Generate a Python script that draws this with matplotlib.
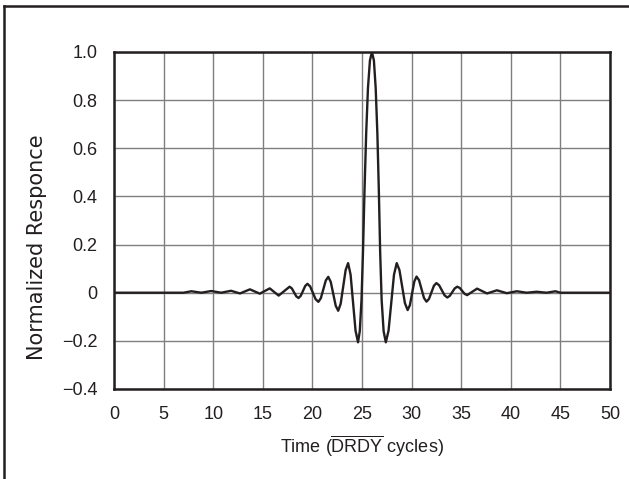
import matplotlib
matplotlib.use("Agg")
import matplotlib.pyplot as plt
from matplotlib.lines import Line2D

plt.rcParams['font.family'] = ['Liberation Sans', 'DejaVu Sans']
plt.rcParams['mathtext.fontset'] = 'custom'
plt.rcParams['mathtext.rm'] = 'Liberation Sans'
plt.rcParams['mathtext.it'] = 'Liberation Sans:italic'

# Impulse response (x in DRDY cycles, y normalized)
time_cycles = [
    0.0, 7.0, 7.4, 7.8, 8.3, 8.8, 9.3, 9.8, 10.3, 10.8, 11.3, 11.8, 12.25, 12.7,
    13.2, 13.7, 14.2, 14.7, 15.2, 15.7, 16.15, 16.6, 17.15, 17.7,
    17.925, 18.15, 18.375, 18.6, 18.825, 19.05, 19.275, 19.5,
    19.775, 20.05, 20.325, 20.6, 20.85, 21.1, 21.35, 21.6,
    21.85, 22.1, 22.35, 22.6, 22.85, 23.1, 23.35, 23.6,
    23.85, 24.1, 24.35, 24.6,
    24.775, 24.95, 25.1, 25.25, 25.42, 25.6, 25.8, 26.0,
    26.2, 26.38, 26.55, 26.7, 26.83, 26.98, 27.18, 27.4,
    27.675, 27.95, 28.225, 28.5, 28.775, 29.05, 29.325, 29.6,
    29.825, 30.05, 30.275, 30.5, 30.75, 31.0, 31.25, 31.5,
    31.75, 32.0, 32.25, 32.5, 32.775, 33.05, 33.325, 33.6,
    33.85, 34.1, 34.35, 34.6, 34.85, 35.1, 35.35, 35.6,
    36.1, 36.6, 37.1, 37.6, 38.1, 38.6, 39.1, 39.6, 40.1, 40.6,
    41.1, 41.6, 42.1, 42.6, 43.1, 43.6, 44.05, 44.5, 45.0, 50.0]
response = [
    0.0, 0.0, 0.003, 0.006, 0.003, 0.0, 0.0035, 0.007, 0.0035, 0.0, 0.004, 0.008, 0.0025, -0.003,
    0.0055, 0.014, 0.005, -0.004, 0.007, 0.018, 0.003, -0.012, 0.0065, 0.025,
    0.018, 0.0015, -0.015, -0.022, -0.013, 0.0075, 0.028, 0.037,
    0.026, -0.0005, -0.027, -0.038, -0.023, 0.014, 0.051, 0.066,
    0.045, -0.0045, -0.054, -0.075, -0.046, 0.024, 0.094, 0.123,
    0.075, -0.0415, -0.158, -0.206,
    -0.16, -0.03, 0.17, 0.42, 0.66, 0.85, 0.965, 1.0,
    0.965, 0.85, 0.66, 0.42, 0.17, -0.03, -0.16, -0.206,
    -0.158, -0.0415, 0.075, 0.123, 0.094, 0.0255, -0.043, -0.072,
    -0.052, -0.0025, 0.047, 0.067, 0.052, 0.015, -0.022, -0.037,
    -0.026, 0.0015, 0.029, 0.04, 0.031, 0.01, -0.011, -0.02,
    -0.013, 0.0025, 0.018, 0.025, 0.02, 0.0075, -0.005, -0.01,
    0.0035, 0.017, 0.007, -0.003, 0.0035, 0.01, 0.004, -0.002, 0.002, 0.006,
    0.003, 0.0, 0.002, 0.004, 0.002, 0.0, 0.003, 0.006, 0.0, 0.0]

x_ticks = [0, 5, 10, 15, 20, 25, 30, 35, 40, 45, 50]
y_ticks = [-0.4, -0.2, 0.0, 0.2, 0.4, 0.6, 0.8, 1.0]
y_tick_labels = ['\u22120.4', '\u22120.2', '0', '0.2', '0.4', '0.6', '0.8', '1.0']

ink = '#231f20'

fig = plt.figure(figsize=(6.29, 4.79), dpi=100)
ax = fig.add_axes([114/629, 1 - 389/479, (610 - 114)/629, (389 - 52)/479])

ax.plot(time_cycles, response, color=ink, lw=1.7, solid_joinstyle='round',
        solid_capstyle='round', zorder=3)

ax.set_xlim(0, 50)
ax.set_ylim(-0.4, 1.0)
ax.set_xticks(x_ticks)
ax.set_yticks(y_ticks)
ax.set_yticklabels(y_tick_labels)
ax.tick_params(length=0, labelsize=13, colors=ink, pad=12)
ax.grid(True, color='#7f7f7f', lw=1.0, zorder=1)
for s in ax.spines.values():
    s.set_color(ink)
    s.set_linewidth(1.8)

ax.set_xlabel('Time ($\\overline{\\mathrm{DRDY}}$ cycles)', fontsize=13, color=ink, labelpad=8)
fig.text(37/629, 1 - 247/479, 'Normalized Responce', rotation=90, ha='center', va='center',
         fontsize=15, color=ink, family=['DejaVu Sans'])

# figure frame (left and top edges)
fig.add_artist(Line2D([4/629, 4/629], [0, 1 - 6/479], transform=fig.transFigure,
                      color=ink, lw=1.8))
fig.add_artist(Line2D([4/629, 1], [1 - 6/479, 1 - 6/479], transform=fig.transFigure,
                      color=ink, lw=1.8))

fig.savefig('out.png', dpi=100)
